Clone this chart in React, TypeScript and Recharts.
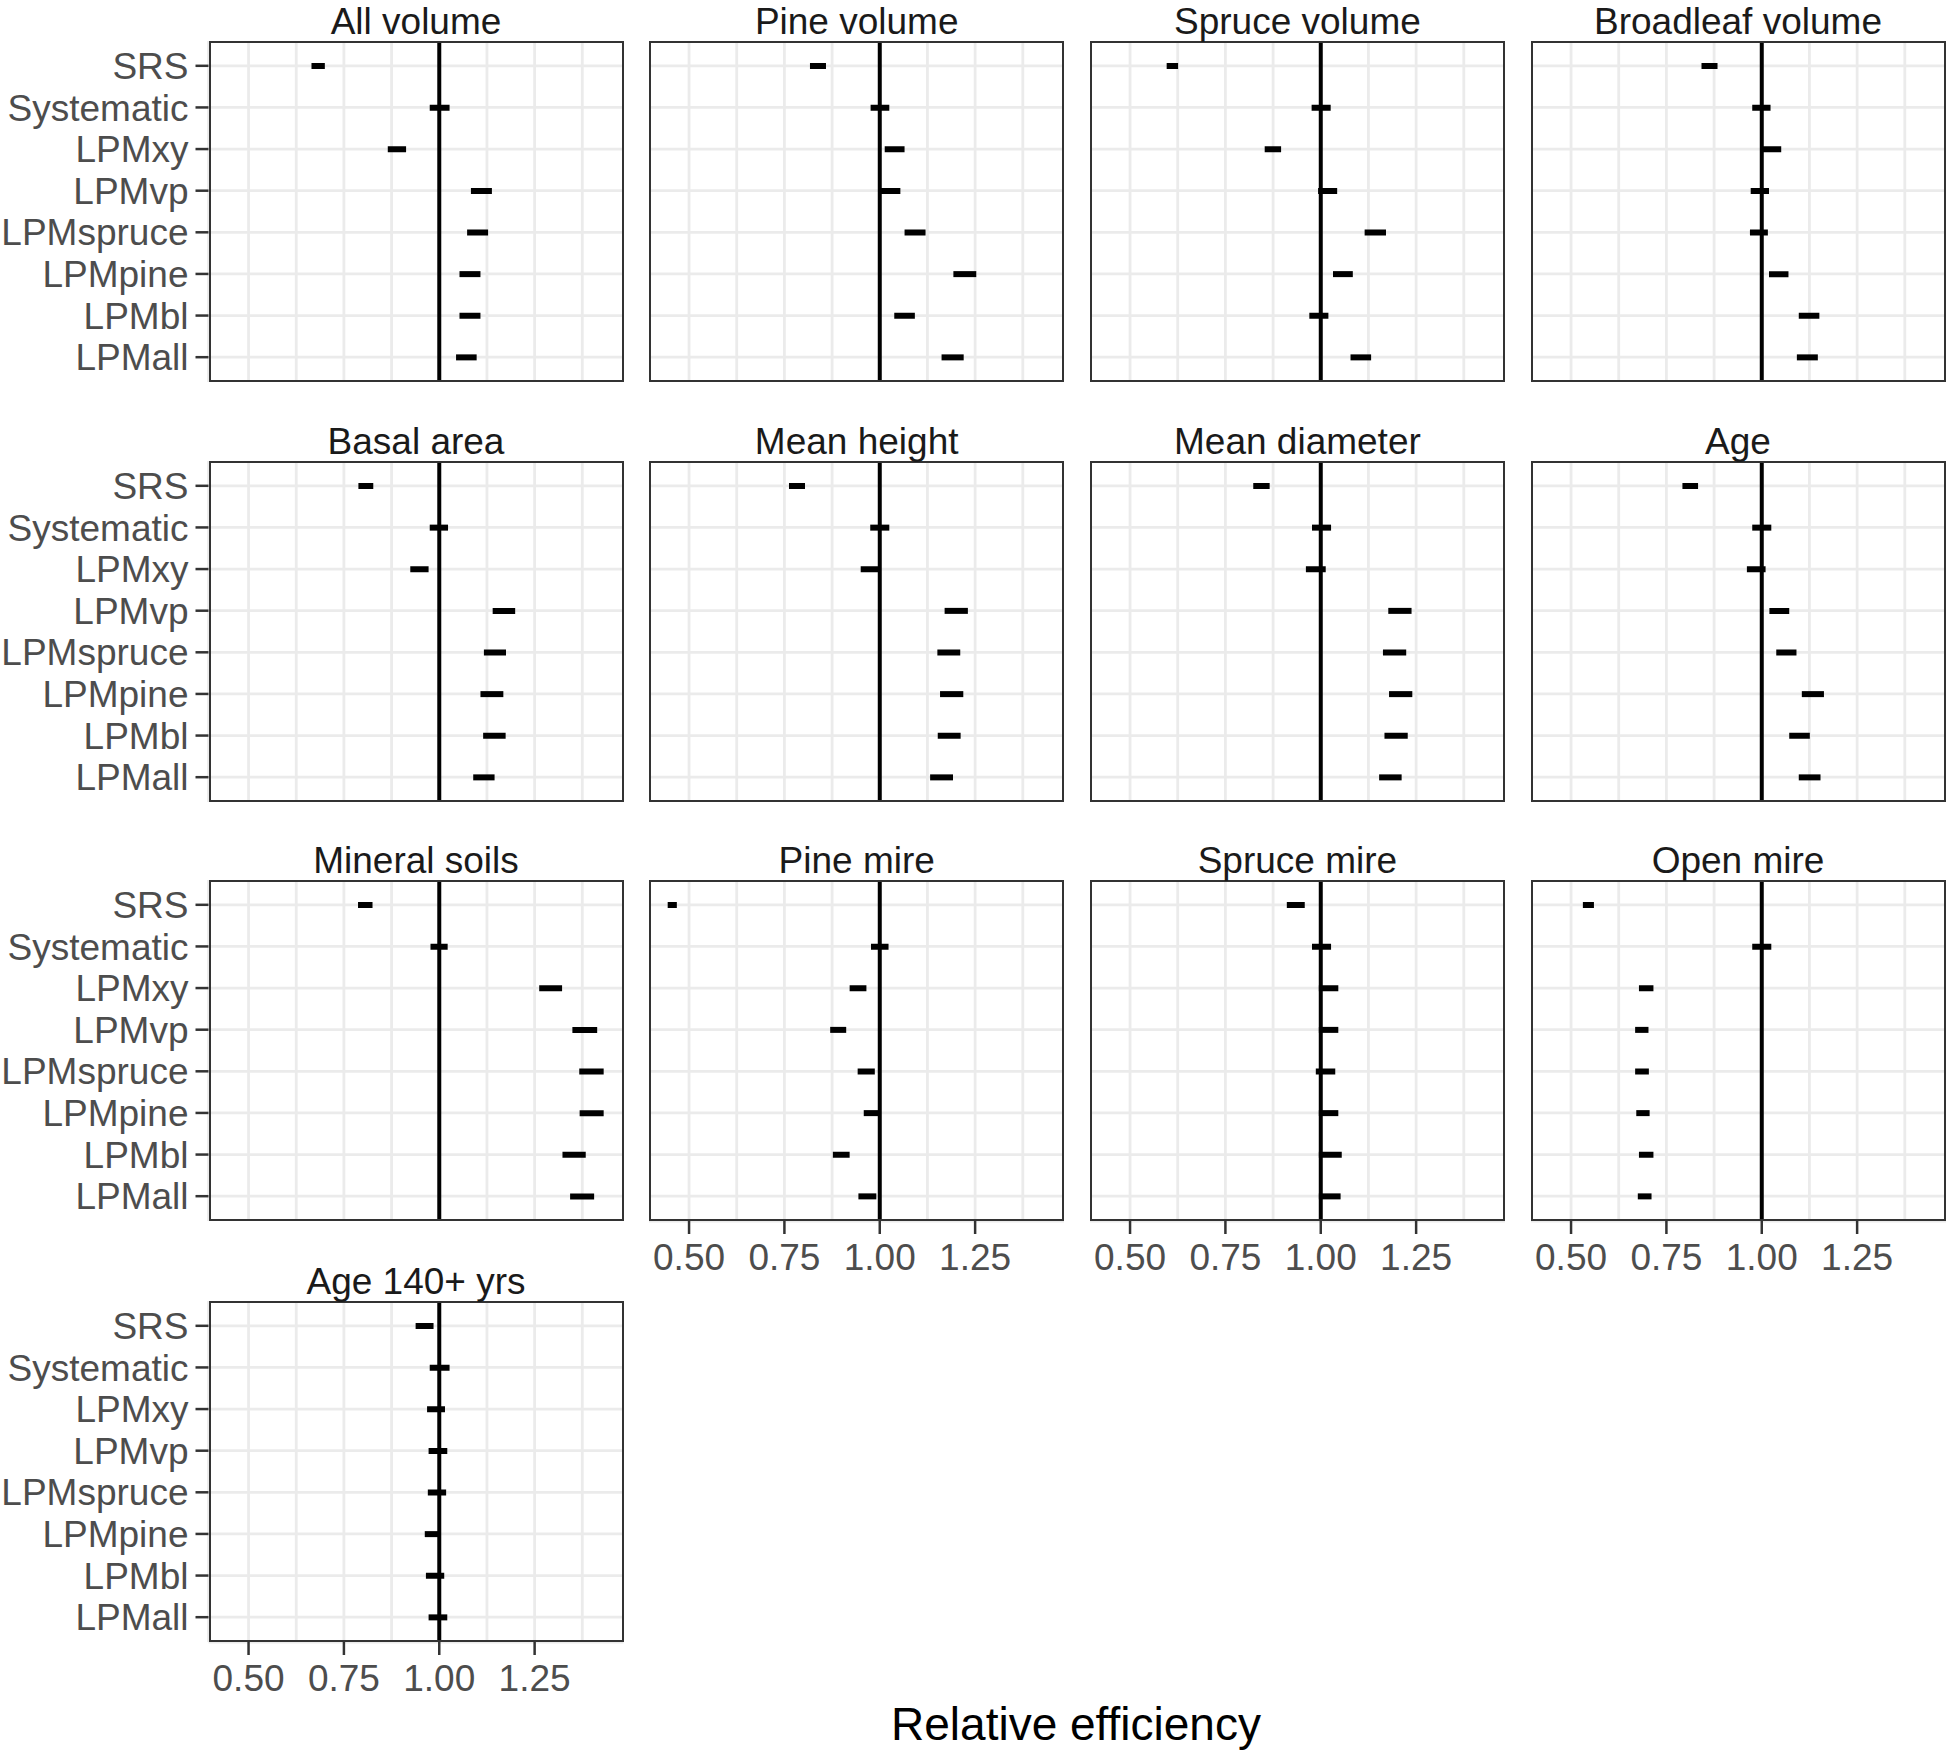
import { Bar, BarChart, CartesianGrid, ReferenceLine, XAxis, YAxis } from "recharts"

const methods = ["SRS", "Systematic", "LPMxy", "LPMvp", "LPMspruce", "LPMpine", "LPMbl", "LPMall"]

const facetTitles = [
  "All volume",
  "Pine volume",
  "Spruce volume",
  "Broadleaf volume",
  "Basal area",
  "Mean height",
  "Mean diameter",
  "Age",
  "Mineral soils",
  "Pine mire",
  "Spruce mire",
  "Open mire",
  "Age 140+ yrs",
]

// [low, high] per method, same order as `methods`
const allVolume = [[0.665, 0.7], [0.975, 1.027], [0.865, 0.913], [1.083, 1.138], [1.073, 1.128], [1.053, 1.108], [1.053, 1.108], [1.044, 1.098]]
const pineVolume = [[0.817, 0.859], [0.976, 1.025], [1.013, 1.065], [1.0, 1.054], [1.065, 1.12], [1.193, 1.253], [1.038, 1.092], [1.162, 1.22]]
const spruceVolume = [[0.596, 0.626], [0.976, 1.026], [0.853, 0.896], [0.993, 1.043], [1.115, 1.171], [1.032, 1.084], [0.97, 1.02], [1.078, 1.132]]
const broadleafVolume = [[0.842, 0.884], [0.975, 1.023], [1.0, 1.051], [0.971, 1.019], [0.969, 1.016], [1.019, 1.07], [1.097, 1.151], [1.092, 1.147]]
const basalArea = [[0.788, 0.827], [0.975, 1.023], [0.924, 0.972], [1.14, 1.199], [1.117, 1.175], [1.108, 1.168], [1.115, 1.174], [1.089, 1.145]]
const meanHeight = [[0.762, 0.804], [0.975, 1.025], [0.95, 0.997], [1.17, 1.231], [1.151, 1.211], [1.158, 1.219], [1.152, 1.212], [1.132, 1.192]]
const meanDiameter = [[0.823, 0.866], [0.977, 1.027], [0.961, 1.013], [1.177, 1.238], [1.163, 1.224], [1.179, 1.24], [1.167, 1.228], [1.153, 1.212]]
const age = [[0.792, 0.833], [0.975, 1.025], [0.961, 1.01], [1.02, 1.072], [1.038, 1.091], [1.105, 1.163], [1.072, 1.126], [1.097, 1.154]]
const mineralSoils = [[0.787, 0.825], [0.977, 1.022], [1.262, 1.322], [1.349, 1.414], [1.367, 1.431], [1.368, 1.431], [1.323, 1.384], [1.343, 1.406]]
const pineMire = [[0.444, 0.468], [0.977, 1.023], [0.921, 0.965], [0.87, 0.912], [0.942, 0.987], [0.958, 1.0], [0.877, 0.921], [0.944, 0.991]]
const spruceMire = [[0.911, 0.958], [0.977, 1.027], [0.995, 1.046], [0.995, 1.046], [0.987, 1.038], [0.995, 1.046], [0.995, 1.055], [0.995, 1.052]]
const openMire = [[0.531, 0.56], [0.975, 1.025], [0.678, 0.716], [0.668, 0.703], [0.668, 0.704], [0.671, 0.706], [0.678, 0.716], [0.675, 0.711]]
const age140 = [[0.938, 0.985], [0.975, 1.027], [0.968, 1.015], [0.972, 1.021], [0.97, 1.018], [0.962, 1.004], [0.965, 1.013], [0.972, 1.021]]

const facetIntervals = [
  allVolume, pineVolume, spruceVolume, broadleafVolume,
  basalArea, meanHeight, meanDiameter, age,
  mineralSoils, pineMire, spruceMire, openMire,
  age140,
]

const xTicks = [0.5, 0.75, 1, 1.25]
// grid lines: major ticks plus the minor breaks in between
const xGrid = [0.5, 0.625, 0.75, 0.875, 1, 1.125, 1.25, 1.375]
const xDomain: [number, number] = [0.395, 1.483]

const font = '"Liberation Sans", Arial, Helvetica, sans-serif'
const PANEL_W = 415
const PANEL_H = 341
const colLeft = [208.5, 649.2, 1089.9, 1530.5]
const rowTop = [41, 460.5, 880, 1300.5]

// bottom tick: mark + label for major breaks only, nothing for minor ones
function XTick(props: any) {
  const { x, payload, show } = props
  const v = payload?.value
  if (!show || !xTicks.includes(v)) return <g />
  return (
    <g>
      <line x1={x} x2={x} y1={PANEL_H} y2={PANEL_H + 13} stroke="#333333" strokeWidth={2.5} />
      <text x={x} y={PANEL_H + 23} dy="0.71em" textAnchor="middle" fontSize={37} fontFamily={font} fill="#4D4D4D">
        {Number(v).toFixed(2)}
      </text>
    </g>
  )
}

function YTick(props: any) {
  const { y, payload, show, plotLeft } = props
  if (!show) return <g />
  return (
    <g>
      <line x1={plotLeft - 13} x2={plotLeft} y1={y} y2={y} stroke="#333333" strokeWidth={2.5} />
      <text x={plotLeft - 20} y={y} dy="0.355em" textAnchor="end" fontSize={37} fontFamily={font} fill="#4D4D4D">
        {payload?.value}
      </text>
    </g>
  )
}

function Facet({ index }: { index: number }) {
  const row = Math.floor(index / 4)
  const col = index % 4
  const showY = col === 0
  const showX = index >= 9
  const yW = showY ? colLeft[0] : 0
  const width = yW + PANEL_W
  const height = PANEL_H + (showX ? 80 : 0)
  const data = methods.map((m, k) => ({ method: m, range: facetIntervals[index][k] }))

  return (
    <div style={{ position: "absolute", left: showY ? 0 : colLeft[col], top: rowTop[row], width, height }}>
      <BarChart
        width={width}
        height={height}
        data={data}
        layout="vertical"
        margin={{ top: 0, right: 0, bottom: 0, left: 0 }}
      >
        <CartesianGrid stroke="#EBEBEB" strokeWidth={2.8} />
        <XAxis
          type="number"
          domain={xDomain}
          allowDataOverflow
          ticks={xGrid}
          interval={0}
          height={showX ? 80 : 0}
          tick={<XTick show={showX} />}
          tickLine={false}
          tickSize={0}
          axisLine={false}
        />
        <YAxis
          type="category"
          dataKey="method"
          width={yW}
          padding={{ top: 4, bottom: 4 }}
          tick={<YTick show={showY} plotLeft={yW} />}
          tickLine={false}
          tickSize={0}
          axisLine={false}
          interval={0}
        />
        <Bar dataKey="range" fill="#000000" barSize={6} isAnimationActive={false} />
        <ReferenceLine x={1} stroke="#000000" strokeWidth={4} />
      </BarChart>
      <div
        style={{
          position: "absolute",
          left: yW,
          top: 0,
          width: PANEL_W,
          height: PANEL_H,
          border: "2.5px solid #333333",
          boxSizing: "border-box",
          pointerEvents: "none",
        }}
      />
    </div>
  )
}

export default function App() {
  return (
    <div style={{ position: "absolute", left: 0, top: 0, width: 1946, height: 1753, background: "#ffffff", overflow: "hidden" }}>
      {facetTitles.map((_, i) => (
        <Facet key={i} index={i} />
      ))}
      <svg width={1946} height={1753} style={{ position: "absolute", left: 0, top: 0, pointerEvents: "none" }}>
        {facetTitles.map((t, i) => (
          <text
            key={t}
            x={colLeft[i % 4] + PANEL_W / 2}
            y={rowTop[Math.floor(i / 4)] - 7}
            textAnchor="middle"
            fontSize={37}
            fontFamily={font}
            fill="#1A1A1A"
          >
            {t}
          </text>
        ))}
        <text x={1076} y={1740} textAnchor="middle" fontSize={46} fontFamily={font} fill="#000000">
          Relative efficiency
        </text>
      </svg>
    </div>
  )
}
